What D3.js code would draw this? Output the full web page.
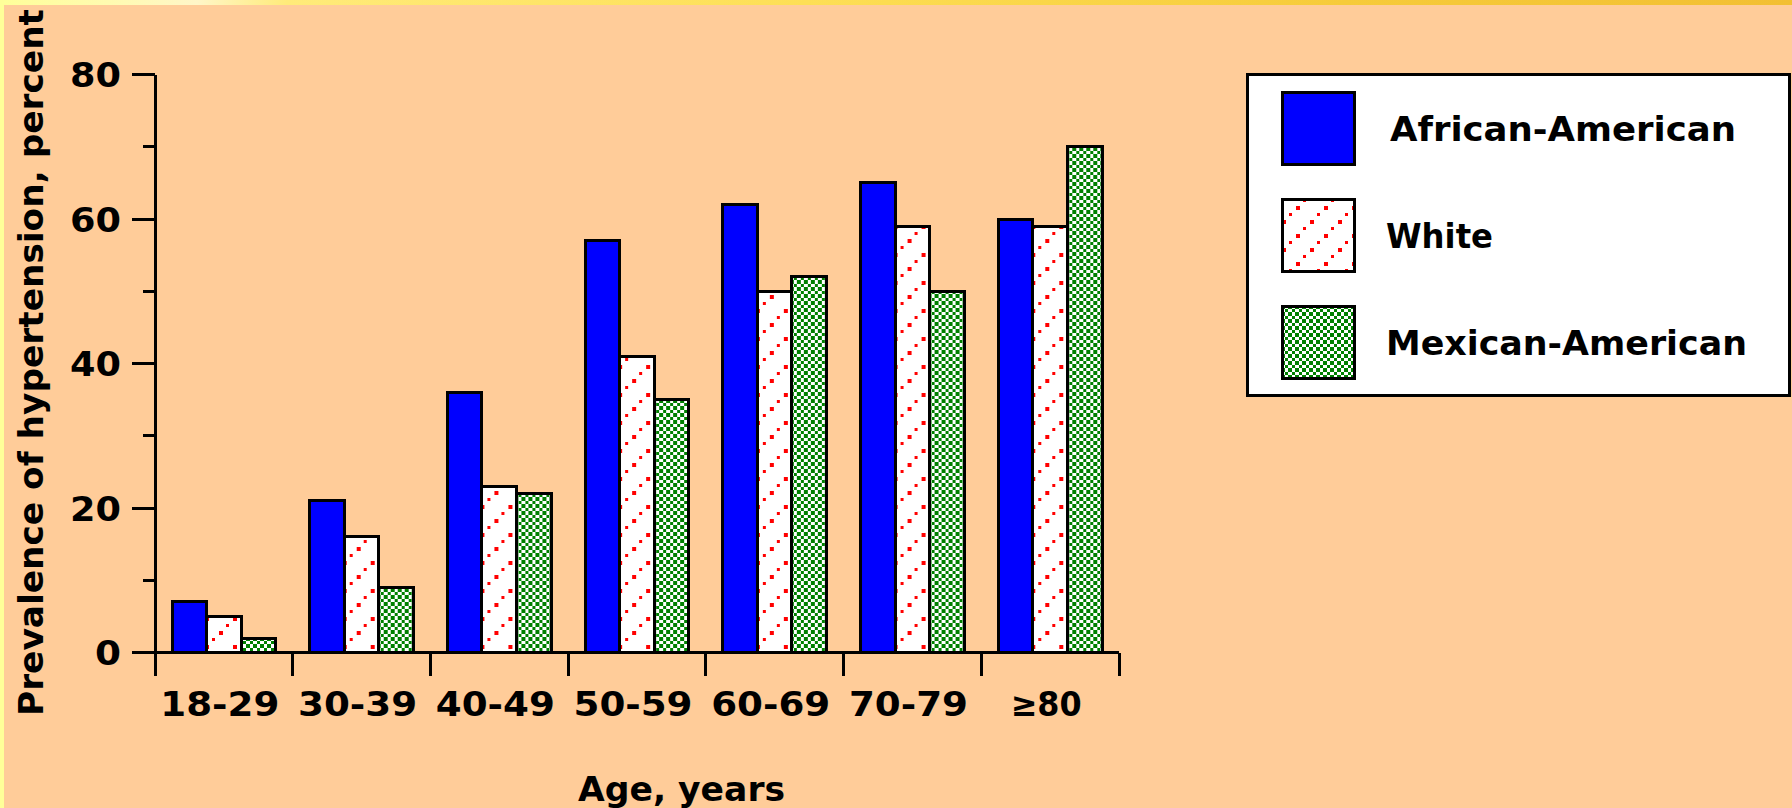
<!DOCTYPE html>
<html>
<head>
<meta charset="utf-8">
<script src="https://cdn.jsdelivr.net/npm/d3@7"></script>
<style>
  html, body { margin: 0; padding: 0; background: #FFCC99; }
  svg { display: block; }
  text { font-family: "DejaVu Sans", sans-serif; font-weight: bold; fill: #000; }
</style>
</head>
<body>
<svg id="chart" width="1792" height="808"></svg>
<script>
// Hypertension prevalence by age group and ethnicity
const categories = ["18-29", "30-39", "40-49", "50-59", "60-69", "70-79", "\u226580"];
const seriesNames = ["African-American", "White", "Mexican-American"];
const africanAmerican = [7, 21, 36, 57, 62, 65, 60];
const white = [5, 16, 23, 41, 50, 59, 59];
const mexicanAmerican = [2, 9, 22, 35, 52, 50, 70];
const majorTicks = [0, 20, 40, 60, 80];
const minorTicks = [10, 30, 50, 70];

const seriesValues = [africanAmerican, white, mexicanAmerican];
const fills = ["#0000FF", "url(#dots)", "url(#checks)"];

const svg = d3.select("#chart");
const W = 1792, H = 808;

// ---- background and frame strips ----
const defs = svg.append("defs");
const topGrad = defs.append("linearGradient").attr("id", "topStrip")
  .attr("x1", "0%").attr("x2", "100%").attr("y1", "0%").attr("y2", "0%");
[[0, "#FFFF99"], [0.06, "#FFFBB0"], [0.11, "#FFF6C8"], [0.16, "#FFEB7A"],
 [0.45, "#FDDF55"], [0.75, "#F6CB3A"], [1, "#F2BF33"]].forEach(([o, c]) =>
  topGrad.append("stop").attr("offset", o).attr("stop-color", c));

svg.append("rect").attr("width", W).attr("height", H).attr("fill", "#FFCC99");
svg.append("rect").attr("width", W).attr("height", 5).attr("fill", "url(#topStrip)");
svg.append("rect").attr("width", 4).attr("height", H).attr("fill", "#FFFF99");

// ---- fill patterns ----
const dots = defs.append("pattern").attr("id", "dots")
  .attr("patternUnits", "userSpaceOnUse").attr("width", 28).attr("height", 28);
dots.append("rect").attr("width", 28).attr("height", 28).attr("fill", "#FFFFFF");
[0, 1, 2, 3].forEach(k => {
  const s = k % 2 === 0 ? 4 : 3;
  dots.append("rect")
    .attr("x", 22 - 7 * k).attr("y", 1 + 7 * k)
    .attr("width", s).attr("height", s)
    .attr("fill", "#FF0000").attr("shape-rendering", "crispEdges");
});

const checks = defs.append("pattern").attr("id", "checks")
  .attr("patternUnits", "userSpaceOnUse").attr("width", 7).attr("height", 7);
checks.append("rect").attr("width", 7).attr("height", 7).attr("fill", "#FFFFFF");
checks.append("rect").attr("x", 0).attr("y", 0).attr("width", 3.5).attr("height", 3.5)
  .attr("fill", "#008000").attr("shape-rendering", "crispEdges");
checks.append("rect").attr("x", 3.5).attr("y", 3.5).attr("width", 3.5).attr("height", 3.5)
  .attr("fill", "#008000").attr("shape-rendering", "crispEdges");

// ---- scales ----
const plotLeft = 155, plotRight = 1119;
const x0 = d3.scaleBand().domain(categories).range([plotLeft, plotRight]).paddingInner(0).paddingOuter(0);
const bw = x0.bandwidth();
const x1 = d3.scaleBand().domain(seriesNames).range([17, bw - 17]).padding(0);
const y = d3.scaleLinear().domain([0, 80]).range([652.5, 74.5]);

// ---- bars ----
const groups = svg.append("g").selectAll("g")
  .data(categories)
  .join("g")
  .attr("transform", d => `translate(${x0(d)},0)`);

groups.selectAll("rect")
  .data((c, i) => seriesNames.map((s, j) => ({ s, j, v: seriesValues[j][i] })))
  .join("rect")
  .attr("x", d => x1(d.s))
  .attr("y", d => y(d.v))
  .attr("width", x1.bandwidth())
  .attr("height", d => y(0) - y(d.v))
  .attr("fill", d => fills[d.j])
  .attr("stroke", "#000")
  .attr("stroke-width", 3)
  .attr("shape-rendering", "crispEdges");

// ---- axes ----
const axes = svg.append("g").attr("stroke", "#000").attr("stroke-width", 3)
  .attr("shape-rendering", "crispEdges");
// y axis line (runs below the baseline to the first category tick)
axes.append("line").attr("x1", plotLeft).attr("x2", plotLeft)
  .attr("y1", y(80)).attr("y2", 676);
axes.selectAll(".major").data(majorTicks).join("line")
  .attr("x1", 132).attr("x2", plotLeft).attr("y1", d => y(d)).attr("y2", d => y(d));
axes.selectAll(".minor").data(minorTicks).join("line")
  .attr("x1", 143).attr("x2", plotLeft).attr("y1", d => y(d)).attr("y2", d => y(d));
// x axis line
axes.append("line").attr("x1", 132).attr("x2", plotRight)
  .attr("y1", y(0)).attr("y2", y(0));
const boundaries = categories.map(c => x0(c)).concat([plotRight]);
axes.selectAll(".xtick").data(boundaries.slice(1)).join("line")
  .attr("x1", d => d).attr("x2", d => d).attr("y1", y(0)).attr("y2", 676);

// tick labels (wide bitmap-style lettering, set by explicit run lengths)
const yLabelLen = d => String(d).length === 1 ? 26 : 51;
svg.append("g").selectAll("text").data(majorTicks).join("text")
  .attr("x", d => 121 - yLabelLen(d)).attr("y", d => y(d) + 12.5)
  .attr("font-size", 34)
  .attr("textLength", yLabelLen).attr("lengthAdjust", "spacingAndGlyphs")
  .text(d => d);

const xLabelLen = d => d.length >= 5 ? 119 : 71;
svg.append("g").selectAll("text").data(categories).join("text")
  .attr("x", d => x0(d) + bw / 2 - 4 - xLabelLen(d) / 2).attr("y", 716)
  .attr("font-size", 34)
  .attr("textLength", xLabelLen).attr("lengthAdjust", "spacingAndGlyphs")
  .text(d => d);

// axis titles
svg.append("text")
  .attr("transform", "translate(43,716) rotate(-90)")
  .attr("font-size", 34)
  .attr("textLength", 707).attr("lengthAdjust", "spacingAndGlyphs")
  .text("Prevalence of hypertension, percent");

svg.append("text")
  .attr("x", 578).attr("y", 801)
  .attr("font-size", 34)
  .attr("textLength", 207).attr("lengthAdjust", "spacingAndGlyphs")
  .text("Age, years");

// ---- legend ----
const legend = svg.append("g");
legend.append("rect")
  .attr("x", 1247.7).attr("y", 74.8).attr("width", 541.9).attr("height", 320.4)
  .attr("fill", "#FFFFFF").attr("stroke", "#000").attr("stroke-width", 3)
  .attr("shape-rendering", "crispEdges");
const legendRows = legend.selectAll("g.row").data(seriesNames).join("g")
  .attr("transform", (d, i) => `translate(0,${i * 107})`);
legendRows.append("rect")
  .attr("x", 1282.6).attr("y", 92.5).attr("width", 71.8).attr("height", 71.7)
  .attr("fill", (d, i) => fills[i]).attr("stroke", "#000").attr("stroke-width", 3)
  .attr("shape-rendering", "crispEdges");
const legendX = [1390, 1386, 1386];
const legendWidths = [346, 107, 361];
legendRows.append("text")
  .attr("x", (d, i) => legendX[i]).attr("y", 141)
  .attr("font-size", 34)
  .attr("textLength", (d, i) => legendWidths[i]).attr("lengthAdjust", "spacingAndGlyphs")
  .text(d => d);
</script>
</body>
</html>
